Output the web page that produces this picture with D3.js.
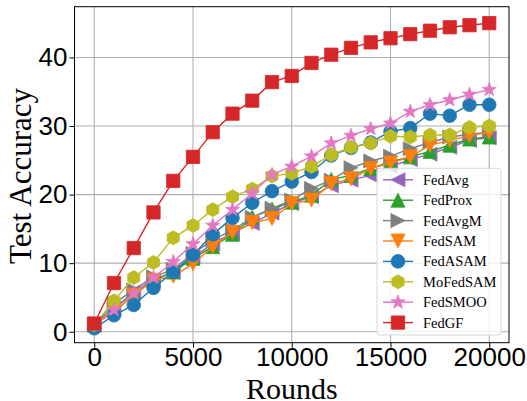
<!DOCTYPE html>
<html>
<head>
<meta charset="utf-8">
<script src="https://cdn.jsdelivr.net/npm/d3@7"></script>
<style>
  html, body { margin: 0; padding: 0; background: #fff; }
  svg { display: block; font-family: "Liberation Serif", "Times New Roman", serif; }
  .axis text { font-size: 26px; fill: #000; }
  .axis line, .axis path { stroke: #000; }
</style>
</head>
<body>
<svg id="chart" width="527" height="401"></svg>
<script>
// rounds evaluated every 1000
const ROUNDS = d3.range(0, 20001, 1000);

const FEDAVG   = [1.0, 3.4, 5.8, 7.6, 8.7, 10.9, 12.8, 14.4, 15.8, 17.3, 18.7, 19.7, 21.3, 22.1, 22.8, 24.1, 25.1, 25.9, 26.9, 27.9, 28.3];
const FEDPROX  = [1.0, 3.4, 5.6, 7.5, 8.7, 10.7, 12.4, 14.2, 16.7, 17.9, 18.9, 19.9, 22.2, 22.8, 23.8, 24.8, 25.5, 26.3, 27.2, 28.1, 28.4];
const FEDAVGM  = [1.0, 4.1, 6.1, 8.0, 9.1, 11.4, 13.4, 14.8, 16.7, 18.0, 19.2, 20.9, 22.1, 23.9, 24.9, 25.6, 26.7, 27.6, 28.4, 28.8, 29.1];
const FEDSAM   = [1.0, 2.9, 5.3, 7.5, 8.1, 9.9, 12.4, 14.5, 15.9, 16.5, 18.7, 19.2, 21.6, 22.3, 23.8, 24.6, 25.5, 27.2, 27.9, 28.6, 29.1];
const FEDASAM  = [0.5, 2.4, 3.9, 6.4, 8.7, 11.2, 14.2, 16.6, 18.8, 20.5, 21.9, 23.3, 25.7, 26.8, 27.6, 29.2, 29.7, 31.8, 31.5, 33.1, 33.1];
const MOFEDSAM = [1.0, 4.5, 7.9, 10.1, 13.7, 15.5, 17.8, 19.7, 20.8, 22.7, 23.1, 24.1, 25.8, 26.9, 27.5, 28.5, 28.4, 28.7, 28.7, 29.8, 30.0];
const FEDSMOO  = [1.0, 3.2, 5.6, 7.9, 10.2, 12.8, 15.5, 17.8, 20.2, 22.9, 24.1, 25.6, 27.5, 28.6, 29.6, 30.4, 32.1, 33.1, 33.8, 34.6, 35.3];
const FEDGF    = [1.2, 7.1, 12.2, 17.4, 22.0, 25.5, 29.1, 31.8, 33.7, 36.4, 37.3, 39.2, 40.4, 41.4, 42.2, 42.8, 43.4, 43.9, 44.4, 44.7, 45.0];

const X_TICKS = [0, 5000, 10000, 15000, 20000];
const Y_TICKS = [0, 10, 20, 30, 40];

const SERIES = [
  { name: "FedAvg",   values: FEDAVG,   color: "#9467bd", marker: "triLeft" },
  { name: "FedProx",  values: FEDPROX,  color: "#2ca02c", marker: "triUp" },
  { name: "FedAvgM",  values: FEDAVGM,  color: "#7f7f7f", marker: "triRight" },
  { name: "FedSAM",   values: FEDSAM,   color: "#ff7f0e", marker: "triDown" },
  { name: "FedASAM",  values: FEDASAM,  color: "#1f77b4", marker: "circle" },
  { name: "MoFedSAM", values: MOFEDSAM, color: "#bcbd22", marker: "hexagon" },
  { name: "FedSMOO",  values: FEDSMOO,  color: "#e377c2", marker: "star" },
  { name: "FedGF",    values: FEDGF,    color: "#d62728", marker: "square" },
];

// ---- marker shapes (matplotlib-like, s = box size in px) ----
function poly(pts) {
  return "M" + pts.map((p) => p[0].toFixed(2) + "," + p[1].toFixed(2)).join("L") + "Z";
}
function markerPath(type, s) {
  const h = s / 2;
  switch (type) {
    case "square": return poly([[-h * 0.95, -h * 0.95], [h * 0.95, -h * 0.95], [h * 0.95, h * 0.95], [-h * 0.95, h * 0.95]]);
    case "circle": return d3.symbol(d3.symbolCircle, Math.PI * h * h * 0.95)();
    case "triUp": return poly([[0, -h], [-h, h], [h, h]]);
    case "triDown": return poly([[0, h], [-h, -h], [h, -h]]);
    case "triLeft": return poly([[-h, 0], [h, -h], [h, h]]);
    case "triRight": return poly([[h, 0], [-h, -h], [-h, h]]);
    case "hexagon": return poly(d3.range(6).map((i) => {
      const a = -Math.PI / 2 + i * Math.PI / 3;
      return [h * Math.cos(a), h * Math.sin(a)];
    }));
    case "star": return poly(d3.range(10).map((i) => {
      const a = -Math.PI / 2 + i * Math.PI / 5;
      const r = i % 2 ? h * 0.42 : h * 1.05;
      return [r * Math.cos(a), r * Math.sin(a)];
    }));
  }
}

const W = 527, H = 401;
const m = { t: 6.7, r: 18, b: 58.3, l: 74.5 };
const svg = d3.select("#chart");

const x = d3.scaleLinear().domain([-1000, 21000]).range([m.l, W - m.r]);
const y = d3.scaleLinear().domain([-1.6, 47.4]).range([H - m.b, m.t]);

// grid
svg.append("g").selectAll("line.gx").data(X_TICKS).join("line")
  .attr("x1", (d) => x(d)).attr("x2", (d) => x(d))
  .attr("y1", m.t).attr("y2", H - m.b)
  .attr("stroke", "#b0b0b0").attr("stroke-width", 1.1);
svg.append("g").selectAll("line.gy").data(Y_TICKS).join("line")
  .attr("y1", (d) => y(d)).attr("y2", (d) => y(d))
  .attr("x1", m.l).attr("x2", W - m.r)
  .attr("stroke", "#b0b0b0").attr("stroke-width", 1.1);

// series
const plot = svg.append("g");
const line = d3.line().x((d) => x(d[0])).y((d) => y(d[1]));
SERIES.forEach((s) => {
  const pts = ROUNDS.map((r, i) => [r, s.values[i]]);
  const g = plot.append("g");
  g.append("path").datum(pts).attr("d", line)
    .attr("fill", "none").attr("stroke", s.color).attr("stroke-width", 1.4);
  g.selectAll("path.mk").data(pts).join("path").attr("class", "mk")
    .attr("transform", (d) => `translate(${x(d[0])},${y(d[1])})`)
    .attr("d", markerPath(s.marker, 14))
    .attr("fill", s.color).attr("stroke", s.color).attr("stroke-width", 0.8);
});

// axes
svg.append("g").attr("class", "axis")
  .attr("transform", `translate(0,${H - m.b})`)
  .call(d3.axisBottom(x).tickValues(X_TICKS).tickSize(5).tickPadding(0).tickFormat(d3.format("d")))
  .call((g) => g.select(".domain").remove());
svg.append("g").attr("class", "axis")
  .attr("transform", `translate(${m.l},0)`)
  .call(d3.axisLeft(y).tickValues(Y_TICKS).tickSize(5).tickPadding(2).tickFormat(d3.format("d")))
  .call((g) => g.select(".domain").remove());
svg.append("rect").attr("x", m.l).attr("y", m.t)
  .attr("width", W - m.l - m.r).attr("height", H - m.t - m.b)
  .attr("fill", "none").attr("stroke", "#000").attr("stroke-width", 1);

// axis titles
svg.append("text").attr("x", x(10000)).attr("y", 399)
  .attr("text-anchor", "middle").style("font-size", "30px").text("Rounds");
svg.append("text").attr("transform", "translate(31,176) rotate(-90)")
  .attr("text-anchor", "middle").style("font-size", "31px").text("Test Accuracy");

// legend
const lg = svg.append("g").attr("transform", "translate(377,168.3)");
lg.append("rect").attr("width", 124).attr("height", 166.7).attr("rx", 3)
  .attr("fill", "#fff").attr("fill-opacity", 0.8)
  .attr("stroke", "#d8d8d8").attr("stroke-width", 1);
SERIES.forEach((s, i) => {
  const row = lg.append("g").attr("transform", `translate(0,${11.5 + i * 20.4})`);
  row.append("line").attr("x1", 6).attr("x2", 36)
    .attr("stroke", s.color).attr("stroke-width", 1.4);
  row.append("path").attr("transform", "translate(21,0)")
    .attr("d", markerPath(s.marker, 14))
    .attr("fill", s.color).attr("stroke", s.color).attr("stroke-width", 0.8);
  row.append("text").attr("x", 46).attr("y", 5)
    .style("font-size", "14.5px").text(s.name);
});
</script>
</body>
</html>
